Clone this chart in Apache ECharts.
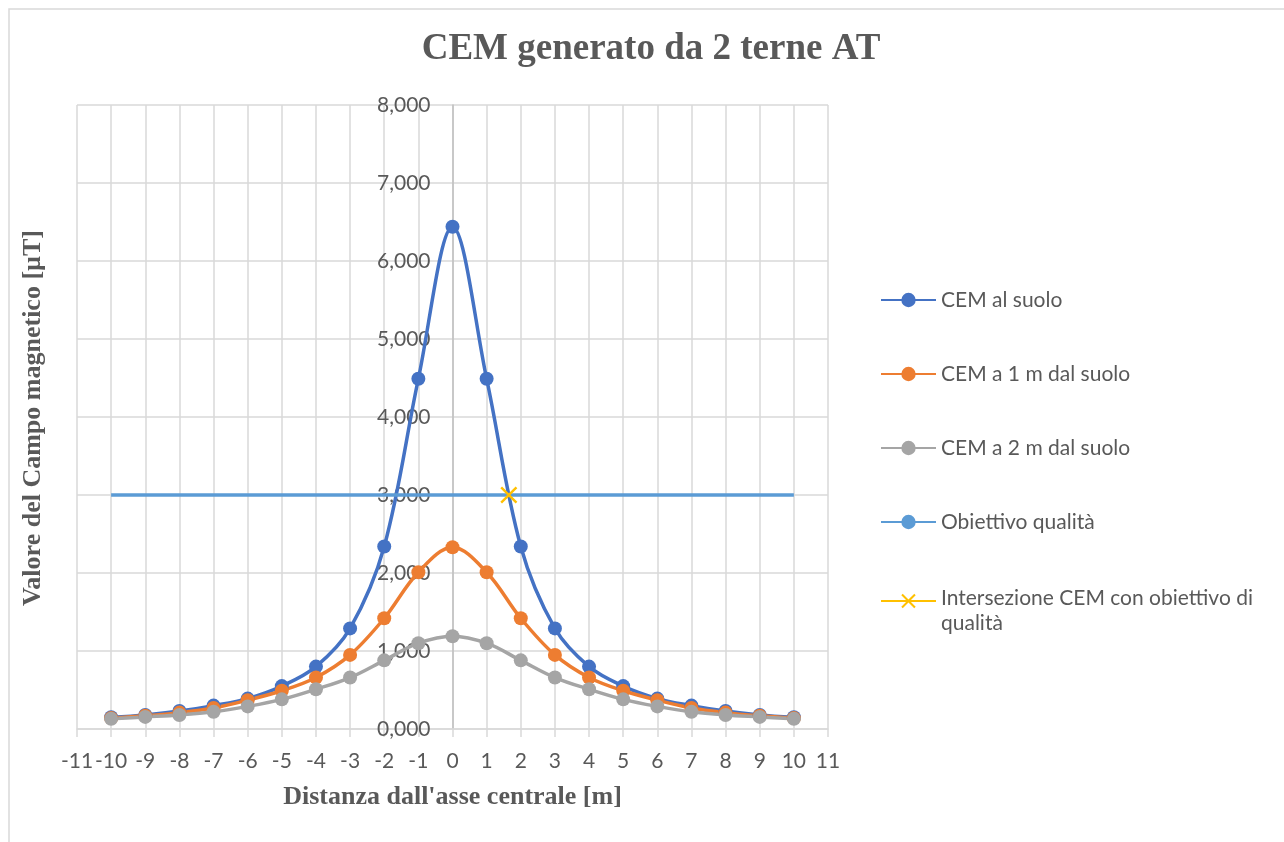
<!DOCTYPE html>
<html>
<head>
<meta charset="utf-8">
<title>CEM generato da 2 terne AT</title>
<script src="https://cdn.jsdelivr.net/npm/echarts@6/dist/echarts.min.js"></script>
<style>
  html, body { margin: 0; padding: 0; background: #fff; }
  #chart { width: 1284px; height: 842px; }
</style>
</head>
<body>
<div id="chart"></div>
<script>
// distanze dall'asse centrale [m]
var distanze = [-10, -9, -8, -7, -6, -5, -4, -3, -2, -1, 0, 1, 2, 3, 4, 5, 6, 7, 8, 9, 10];
// valori [µT]
var cemSuolo = [0.15, 0.18, 0.23, 0.30, 0.39, 0.55, 0.80, 1.29, 2.34, 4.49, 6.44, 4.49, 2.34, 1.29, 0.80, 0.55, 0.39, 0.30, 0.23, 0.18, 0.15];
var cem1m = [0.14, 0.17, 0.21, 0.27, 0.37, 0.49, 0.66, 0.95, 1.42, 2.01, 2.33, 2.01, 1.42, 0.95, 0.66, 0.49, 0.37, 0.27, 0.21, 0.17, 0.14];
var cem2m = [0.13, 0.155, 0.18, 0.22, 0.29, 0.38, 0.51, 0.66, 0.88, 1.10, 1.19, 1.10, 0.88, 0.66, 0.51, 0.38, 0.29, 0.22, 0.18, 0.155, 0.13];
var obiettivoX = [-10, 10];
var obiettivoY = [3, 3];
var intersezioneX = [1.65];
var intersezioneY = [3];

var grigio = "#595959";
var sans = "Lato, 'Open Sans', sans-serif";
var serif = "'Liberation Serif', 'DejaVu Serif', serif";
var nomeIntersezione = "Intersezione CEM con obiettivo di qualità";

let zip = (xs, ys) => xs.map((x, i) => [x, ys[i]]);

let lineSerie = (name, data, color) => ({
  name: name,
  type: "line",
  data: zip(distanze, data),
  smooth: 0.35,
  symbol: "circle",
  symbolSize: 14,
  lineStyle: { color: color, width: 3.5 },
  itemStyle: { color: color },
  emphasis: { disabled: true },
});

var myChart = echarts.init(document.getElementById("chart"));
myChart.setOption({
  animation: false,
  title: {
    text: "CEM generato da 2 terne AT",
    left: 651,
    top: 31,
    padding: 0,
    textAlign: "center",
    textStyle: { fontFamily: serif, fontWeight: "bold", fontSize: 37, color: grigio },
  },
  legend: {
    orient: "vertical",
    left: 880,
    top: 287,
    padding: 0,
    itemWidth: 55,
    itemHeight: 18,
    itemGap: 48,
    textStyle: {
      fontFamily: sans,
      fontSize: 21,
      lineHeight: 26,
      color: grigio,
      rich: {
        // la seconda riga non conta nell'altezza, così il simbolo resta sulla prima
        a: { fontFamily: sans, fontSize: 21, lineHeight: 30, color: grigio },
        b: { fontFamily: sans, fontSize: 21, lineHeight: 6, verticalAlign: "top", color: grigio },
      },
    },
    data: [
      "CEM al suolo",
      "CEM a 1 m dal suolo",
      "CEM a 2 m dal suolo",
      "Obiettivo qualità",
      nomeIntersezione,
    ],
    formatter: (name) =>
      name === nomeIntersezione ? "{a|Intersezione CEM con obiettivo di}\n{b|qualità}" : name,
  },
  graphic: [
    {
      type: "rect",
      z: -10,
      shape: { x: 9, y: 9, width: 1400, height: 1000 },
      style: { fill: "none", stroke: "#d9d9d9", lineWidth: 1.5 },
    },
    {
      type: "text",
      x: 33,
      y: 418,
      rotation: Math.PI / 2,
      style: {
        text: "Valore del Campo magnetico [µT]",
        fontFamily: serif,
        fontWeight: "bold",
        fontSize: 26,
        fill: grigio,
        align: "center",
        verticalAlign: "middle",
      },
    },
  ],
  grid: { left: 77, right: 456, top: 105, bottom: 113, containLabel: false },
  xAxis: {
    type: "value",
    min: -11,
    max: 11,
    interval: 1,
    name: "Distanza dall'asse centrale [m]",
    nameLocation: "middle",
    nameGap: 55,
    nameTextStyle: { fontFamily: serif, fontWeight: "bold", fontSize: 26, color: grigio },
    axisLine: { onZero: false, lineStyle: { color: "#d9d9d9", width: 1.5 } },
    axisTick: { show: true, length: 8, lineStyle: { color: "#d9d9d9", width: 1.5 } },
    axisLabel: { fontFamily: sans, fontSize: 21, color: grigio, margin: 22 },
    splitLine: { show: true, lineStyle: { color: "#d9d9d9", width: 1.5 } },
  },
  yAxis: {
    type: "value",
    min: 0,
    max: 8,
    interval: 1,
    position: "left",
    // asse verticale spostato su x = 0 (metà dell'area)
    offset: -375.5,
    axisLine: { show: true, onZero: false, lineStyle: { color: "#bfbfbf", width: 1.5 } },
    axisTick: { show: false },
    axisLabel: {
      fontFamily: sans,
      fontSize: 21,
      color: grigio,
      margin: 22,
      formatter: (v) => v.toFixed(3).replace(".", ","),
    },
    splitLine: { show: true, lineStyle: { color: "#d9d9d9", width: 1.5 } },
  },
  series: [
    lineSerie("CEM al suolo", cemSuolo, "#4472C4"),
    lineSerie("CEM a 1 m dal suolo", cem1m, "#ED7D31"),
    lineSerie("CEM a 2 m dal suolo", cem2m, "#A5A5A5"),
    {
      name: "Obiettivo qualità",
      type: "line",
      data: zip(obiettivoX, obiettivoY),
      symbol: "none",
      lineStyle: { color: "#5B9BD5", width: 3.5 },
      itemStyle: { color: "#5B9BD5" },
      emphasis: { disabled: true },
    },
    {
      name: nomeIntersezione,
      type: "line",
      data: zip(intersezioneX, intersezioneY),
      symbol: "path://M0,1L1,0L5,4L9,0L10,1L6,5L10,9L9,10L5,6L1,10L0,9L4,5Z",
      symbolSize: 17,
      lineStyle: { color: "#FFC000", width: 3.5 },
      itemStyle: { color: "#FFC000" },
      emphasis: { disabled: true },
    },
  ],
});
window.addEventListener("resize", function () {
  myChart.resize();
});
</script>
</body>
</html>
